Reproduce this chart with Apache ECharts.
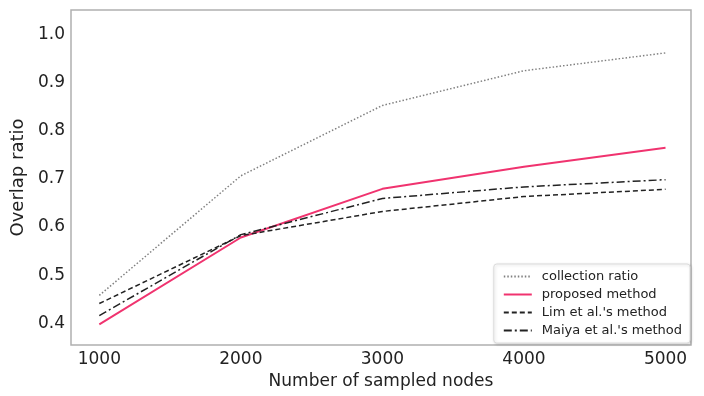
<!DOCTYPE html>
<html>
<head>
<meta charset="utf-8">
<script src="https://cdn.jsdelivr.net/npm/echarts@6/dist/echarts.min.js"></script>
<style>html,body{margin:0;padding:0;background:#fff;}#c{width:704px;height:396px;}</style>
</head>
<body>
<div id="c"></div>
<script>
var sampledNodes = [1000, 2000, 3000, 4000, 5000];
var collectionRatio = [0.458, 0.706, 0.852, 0.924, 0.961];
var proposedMethod = [0.398, 0.578, 0.679, 0.725, 0.764];
var limMethod = [0.441, 0.582, 0.632, 0.663, 0.678];
var maiyaMethod = [0.416, 0.584, 0.659, 0.683, 0.698];
var seriesNames = ["collection ratio", "proposed method", "Lim et al.'s method", "Maiya et al.'s method"];

function pairs(vals) { return sampledNodes.map(function (x, i) { return [x, vals[i]]; }); }

var chart = echarts.init(document.getElementById('c'));
var font = 'DejaVu Sans';
chart.setOption({
  animation: false,
  backgroundColor: '#fff',
  grid: { left: 71, right: 13, top: 10, bottom: 51, show: true, borderColor: '#b0b0b0', borderWidth: 1.5 },
  xAxis: {
    type: 'value', min: 800, max: 5180, interval: 200,
    name: 'Number of sampled nodes', nameLocation: 'middle', nameGap: 26,
    nameTextStyle: { fontFamily: font, fontSize: 17, color: '#222' },
    axisLine: { show: false }, axisTick: { show: false }, splitLine: { show: false },
    axisLabel: { fontFamily: font, fontSize: 17, color: '#222', margin: 6, showMaxLabel: false,
      formatter: function (v) { return (Math.round(v) % 1000 === 0) ? String(Math.round(v)) : ''; } }
  },
  yAxis: {
    type: 'value', min: 0.355, max: 1.05, interval: 0.005,
    name: 'Overlap ratio', nameLocation: 'middle', nameGap: 39,
    nameTextStyle: { fontFamily: font, fontSize: 18, color: '#222' },
    axisLine: { show: false }, axisTick: { show: false }, splitLine: { show: false },
    axisLabel: { fontFamily: font, fontSize: 17, color: '#222', margin: 6, showMinLabel: false, showMaxLabel: false,
      formatter: function (v) { var r = Math.round(v * 1000); return (r % 100 === 0 && r >= 400 && r <= 1000) ? (r / 1000).toFixed(1) : ''; } }
  },
  legend: {
    data: seriesNames, orient: 'vertical', right: 14, bottom: 53,
    backgroundColor: '#fff', borderColor: '#dcdcdc', borderWidth: 1, borderRadius: 3,
    shadowColor: 'rgba(0,0,0,0.15)', shadowBlur: 3, shadowOffsetX: 1, shadowOffsetY: 1,
    padding: [6, 8, 6, 9], itemGap: 5, itemWidth: 28, itemHeight: 14,
    itemStyle: { opacity: 0 },
    textStyle: { fontFamily: font, fontSize: 13, color: '#222', padding: [0, 0, 0, 5] }
  },
  series: [
    { name: seriesNames[0], type: 'line', data: pairs(collectionRatio), symbol: 'none',
      lineStyle: { color: '#808080', width: 1.5, type: [1.5, 2] }, itemStyle: { color: '#808080' } },
    { name: seriesNames[1], type: 'line', data: pairs(proposedMethod), symbol: 'none',
      lineStyle: { color: '#f0336f', width: 2 }, itemStyle: { color: '#f0336f' } },
    { name: seriesNames[2], type: 'line', data: pairs(limMethod), symbol: 'none',
      lineStyle: { color: '#222', width: 1.5, type: [5, 3] }, itemStyle: { color: '#222' } },
    { name: seriesNames[3], type: 'line', data: pairs(maiyaMethod), symbol: 'none',
      lineStyle: { color: '#222', width: 1.5, type: [8, 3, 2, 3] }, itemStyle: { color: '#222' } }
  ]
});
</script>
</body>
</html>
